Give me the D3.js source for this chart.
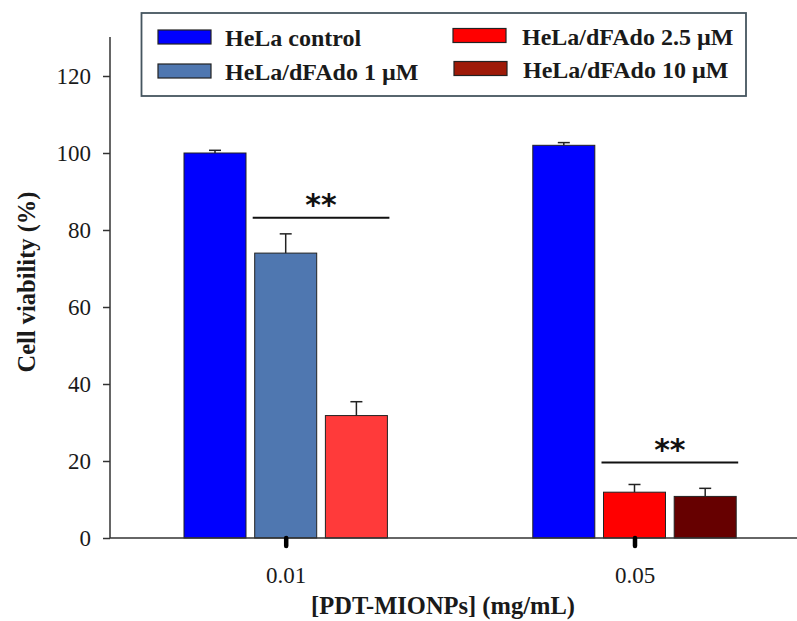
<!DOCTYPE html>
<html>
<head>
<meta charset="utf-8">
<script src="https://cdn.jsdelivr.net/npm/d3@7"></script>
<style>
  html, body { margin: 0; padding: 0; background: #fff; }
  svg { display: block; }
</style>
</head>
<body>
<svg id="chart" width="797" height="621"></svg>
<script>
// ---------- data ----------
const categories = ["0.01", "0.05"];
const seriesNames = ["HeLa control", "HeLa/dFAdo 1 \u00B5M", "HeLa/dFAdo 2.5 \u00B5M", "HeLa/dFAdo 10 \u00B5M"];
// values per series, per category (null = not measured)
const controlValues = [100.0, 102.0];
const controlErrors = [0.7, 0.7];
const dfado1Values = [74.0, null];
const dfado1Errors = [5.0, null];
const dfado25Values = [31.8, 11.9];
const dfado25Errors = [3.6, 2.0];
const dfado10Values = [null, 10.8];
const dfado10Errors = [null, 2.1];
const yTicks = [0, 20, 40, 60, 80, 100, 120];
// significance brackets: category, first & last bar slot, level (%)
const sigCategory = ["0.01", "0.05"];
const sigFrom = [1, 1];
const sigTo = [2, 2];
const sigLevel = [83.2, 19.6];
const sigLabel = ["**", "**"];

// ---------- styles ----------
const legendColors = ["#0000FF", "#4F77B0", "#FF0000", "#9E1A08"];
const barColorsByCat = [
  ["#0000FF", "#4F77B0", "#FF3A3A"],
  ["#0000FF", "#FF0000", "#660000"]
];
const serifFont = "'Liberation Serif', 'Times New Roman', serif";
const textColor = "#1a1a1a";

// build per-category bar lists (only present series, in order)
const allVals = [controlValues, dfado1Values, dfado25Values, dfado10Values];
const allErrs = [controlErrors, dfado1Errors, dfado25Errors, dfado10Errors];
const bars = [];
categories.forEach((c, ci) => {
  let slot = 0;
  allVals.forEach((arr, si) => {
    if (arr[ci] != null) {
      bars.push({cat: c, ci, slot, series: si, value: arr[ci], err: allErrs[si][ci],
                 color: barColorsByCat[ci][slot]});
      slot++;
    }
  });
});

const svg = d3.select("#chart");

// ---------- scales ----------
const y = d3.scaleLinear().domain([0, 120]).range([538, 76]);
const x = d3.scalePoint().domain(categories).range([285.7, 634.5]);
const inner = d3.scaleBand().domain([0, 1, 2]).range([-101.7, 101.7]).paddingInner(0.123);

// ---------- bars ----------
const bx = d => x(d.cat) + inner(d.slot);
svg.append("g").selectAll("rect").data(bars).join("rect")
  .attr("x", bx)
  .attr("y", d => y(d.value))
  .attr("width", inner.bandwidth())
  .attr("height", d => y(0) - y(d.value))
  .attr("fill", d => d.color)
  .attr("stroke", "#222")
  .attr("stroke-width", 1);

// ---------- error bars ----------
const eb = svg.append("g").attr("stroke", "#222").attr("stroke-width", 1.5);
bars.forEach(d => {
  const cx = bx(d) + inner.bandwidth() / 2;
  eb.append("line").attr("x1", cx).attr("x2", cx).attr("y1", y(d.value)).attr("y2", y(d.value + d.err));
  eb.append("line").attr("x1", cx - 6).attr("x2", cx + 6).attr("y1", y(d.value + d.err)).attr("y2", y(d.value + d.err));
});

// ---------- axes ----------
const yAxis = svg.append("g").attr("transform", "translate(110,0)")
  .call(d3.axisLeft(y).tickValues(yTicks).tickSize(7).tickPadding(12));
yAxis.select(".domain").remove();
yAxis.append("line").attr("x1", 0).attr("x2", 0).attr("y1", 37).attr("y2", 538)
  .attr("stroke", "#333").attr("stroke-width", 1.5);
yAxis.selectAll(".tick line").attr("stroke", "#333").attr("stroke-width", 1.5);
yAxis.selectAll(".tick text").attr("font-family", serifFont).attr("font-size", 23).attr("fill", textColor);

svg.append("line").attr("x1", 110).attr("x2", 797).attr("y1", 538).attr("y2", 538)
  .attr("stroke", "#333").attr("stroke-width", 1.5);
const xAxis = svg.append("g").attr("transform", "translate(0,538)")
  .call(d3.axisBottom(x).tickSize(8).tickPadding(21));
xAxis.select(".domain").remove();
xAxis.selectAll(".tick line").attr("stroke", "#000").attr("stroke-width", 4.5).attr("stroke-linecap", "round");
xAxis.selectAll(".tick text").attr("font-family", serifFont).attr("font-size", 23).attr("fill", textColor);

// axis titles
svg.append("text").attr("x", 443).attr("y", 614).attr("text-anchor", "middle")
  .attr("font-family", serifFont).attr("font-weight", "bold").attr("font-size", 24.5).attr("fill", textColor)
  .text("[PDT-MIONPs] (mg/mL)");
svg.append("text").attr("transform", "translate(35,282) rotate(-90)").attr("text-anchor", "middle")
  .attr("font-family", serifFont).attr("font-weight", "bold").attr("font-size", 24.5).attr("fill", textColor)
  .text("Cell viability (%)");

// ---------- significance ----------
sigCategory.forEach((c, i) => {
  const x1 = x(c) + inner(sigFrom[i]) - 2;
  const x2 = x(c) + inner(sigTo[i]) + inner.bandwidth() + 2;
  const yy = y(sigLevel[i]);
  svg.append("line").attr("x1", x1).attr("x2", x2).attr("y1", yy).attr("y2", yy)
    .attr("stroke", "#111").attr("stroke-width", 2);
  svg.append("text").attr("x", (x1 + x2) / 2).attr("y", yy - 3).attr("text-anchor", "middle")
    .attr("font-family", "'DejaVu Sans', sans-serif").attr("font-weight", "bold").attr("font-size", 30)
    .attr("fill", "#111").text(sigLabel[i]);
});

// ---------- legend ----------
const lg = svg.append("g");
lg.append("rect").attr("x", 141.5).attr("y", 13).attr("width", 604.5).attr("height", 83)
  .attr("fill", "#fff").attr("stroke", "#45555f").attr("stroke-width", 1.8);
const legPos = [[158, 30], [158, 64], [453, 28.5], [454, 61.5]];
seriesNames.forEach((name, i) => {
  const [lx, ly] = legPos[i];
  lg.append("rect").attr("x", lx).attr("y", ly).attr("width", 53).attr("height", 14)
    .attr("fill", legendColors[i]).attr("stroke", "#222").attr("stroke-width", 1.2);
  lg.append("text").attr("x", lx + (i < 2 ? 67 : 69)).attr("y", ly + 16)
    .attr("font-family", serifFont).attr("font-weight", "bold").attr("font-size", 24)
    .attr("fill", textColor).text(name);
});
</script>
</body>
</html>
